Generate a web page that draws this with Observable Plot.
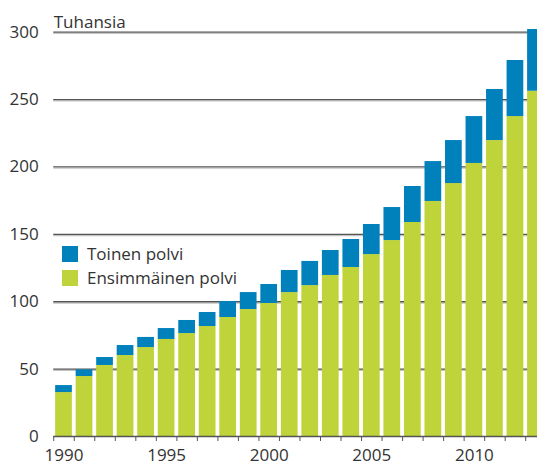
<!DOCTYPE html>
<html>
<head>
<meta charset="utf-8">
<script src="https://cdn.jsdelivr.net/npm/d3@7"></script>
<script src="https://cdn.jsdelivr.net/npm/@observablehq/plot@0.6"></script>
<style>
  html, body { margin: 0; padding: 0; background: #fff; overflow: hidden; }
  #wrap { position: relative; width: 537px; height: 467px; overflow: hidden; font-family: "Open Sans", sans-serif; color: #333; }
  #legend { position: absolute; left: 62px; top: 242px; font-size: 17px; line-height: 24px; }
  #legend .row { display: flex; align-items: center; }
  #legend .sw { width: 16px; height: 16px; margin-right: 9px; }
</style>
</head>
<body>
<div id="wrap"><div id="legend"></div></div>
<script>
const years = [1990,1991,1992,1993,1994,1995,1996,1997,1998,1999,2000,2001,2002,2003,2004,2005,2006,2007,2008,2009,2010,2011,2012,2013];
const ensimmainen = [32.6,44.5,52.7,60.1,66.0,72.0,76.4,81.6,88.3,94.2,98.7,106.8,112.0,119.5,125.4,135.0,145.4,158.8,174.4,187.7,202.6,219.6,237.4,256.2];
const toinen = [5.2,5.0,5.9,7.4,7.5,8.1,9.7,10.4,11.9,12.6,14.1,16.4,17.9,18.5,20.8,22.3,24.5,26.7,29.6,31.9,34.8,37.9,41.6,45.8];
const seriesNames = ["Ensimmäinen polvi", "Toinen polvi"];
const seriesColors = ["#bfd33a", "#0081bb"];
const legendOrder = ["Toinen polvi", "Ensimmäinen polvi"];
const yTicks = [0, 50, 100, 150, 200, 250, 300];
const xLabelYears = [1990, 1995, 2000, 2005, 2010];
const yUnit = "Tuhansia";

const data = [];
years.forEach((yr, i) => {
  data.push({year: yr, series: seriesNames[0], value: ensimmainen[i]});
  data.push({year: yr, series: seriesNames[1], value: toinen[i]});
});

const step = 20.52;
const x0 = 53.24;
const chart = Plot.plot({
  width: 537,
  height: 467,
  marginTop: 31.7,
  marginBottom: 31,
  marginLeft: 53.24,
  marginRight: 0,
  style: {fontFamily: "Open Sans, sans-serif", fontSize: "17px", color: "#333", overflow: "hidden"},
  x: {type: "linear", domain: [years[0], years[years.length - 1] + 1], range: [x0, x0 + step * years.length]},
  y: {domain: [0, 300], ticks: yTicks},
  color: {domain: seriesNames, range: seriesColors},
  marks: [
    Plot.ruleY(yTicks.filter(d => d > 0), {stroke: "#c4c4c4", strokeWidth: 1.2, dy: 1.3}),
    Plot.ruleY(yTicks.filter(d => d > 0), {stroke: "#555", strokeWidth: 1.3}),
    Plot.rectY(data, Plot.stackY({
      x1: d => d.year,
      x2: d => d.year + 1,
      y: "value",
      fill: "series",
      order: seriesNames,
      insetLeft: 1.9,
      insetRight: 1.9
    })),
    Plot.ruleY([0], {stroke: "#555", strokeWidth: 1.3}),
    Plot.axisY({ticks: yTicks, tickSize: 0, tickPadding: 15, fontSize: 17, label: null}),
    Plot.axisX({ticks: years.concat([years[years.length - 1] + 1]), tickSize: 5, tickFormat: () => "", stroke: "#555", label: null}),
    Plot.axisX({ticks: xLabelYears.map(d => d + 0.5), tickSize: 0, tickPadding: 12, tickFormat: d => String(Math.floor(d)), fontSize: 17, label: null}),
    Plot.text([yUnit], {frameAnchor: "top-left", text: d => d, textAnchor: "start", lineAnchor: "bottom", dy: -4, fontSize: 17, fill: "#333"})
  ]
});
document.getElementById("wrap").prepend(chart);

const leg = document.getElementById("legend");
legendOrder.forEach(name => {
  const row = document.createElement("div");
  row.className = "row";
  const sw = document.createElement("div");
  sw.className = "sw";
  sw.style.background = seriesColors[seriesNames.indexOf(name)];
  const t = document.createElement("span");
  t.textContent = name;
  row.appendChild(sw);
  row.appendChild(t);
  leg.appendChild(row);
});
</script>
</body>
</html>
